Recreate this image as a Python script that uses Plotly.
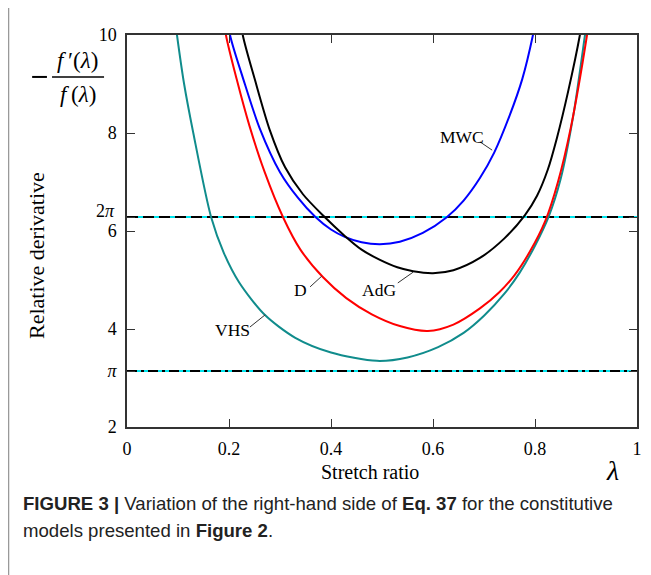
import plotly.graph_objects as go
import math

# ---- data ----
vhs_x = [0.092, 0.098, 0.112, 0.130, 0.165, 0.190, 0.220, 0.270, 0.330, 0.400, 0.490, 0.550, 0.610, 0.660, 0.700, 0.740, 0.770, 0.800, 0.827, 0.850, 0.875, 0.898, 0.904]
vhs_y = [10.5, 10.0, 9.00, 8.00, 6.28, 5.55, 4.95, 4.29, 3.82, 3.52, 3.35, 3.42, 3.63, 3.92, 4.27, 4.72, 5.15, 5.70, 6.30, 7.05, 8.35, 10.0, 10.45]

d_x = [0.188, 0.194, 0.215, 0.240, 0.270, 0.306, 0.340, 0.384, 0.430, 0.480, 0.535, 0.590, 0.640, 0.692, 0.730, 0.760, 0.790, 0.820, 0.845, 0.870, 0.902, 0.908]
d_y = [10.5, 10.0, 9.10, 8.15, 7.20, 6.28, 5.62, 5.06, 4.63, 4.30, 4.06, 3.96, 4.09, 4.42, 4.75, 5.10, 5.58, 6.20, 7.00, 8.10, 10.0, 10.45]

mwc_x = [0.196, 0.202, 0.228, 0.260, 0.300, 0.335, 0.369, 0.400, 0.427, 0.460, 0.496, 0.535, 0.580, 0.627, 0.660, 0.692, 0.720, 0.750, 0.775, 0.796, 0.803]
mwc_y = [10.5, 10.0, 9.10, 8.10, 7.20, 6.68, 6.29, 6.03, 5.88, 5.77, 5.73, 5.78, 5.96, 6.28, 6.62, 7.08, 7.60, 8.35, 9.10, 10.0, 10.4]

adg_x = [0.221, 0.227, 0.251, 0.280, 0.310, 0.345, 0.386, 0.427, 0.460, 0.496, 0.530, 0.561, 0.600, 0.640, 0.692, 0.740, 0.780, 0.804, 0.825, 0.843, 0.865, 0.888, 0.894]
adg_y = [10.5, 10.0, 9.08, 8.06, 7.30, 6.75, 6.30, 5.90, 5.62, 5.41, 5.26, 5.18, 5.14, 5.20, 5.45, 5.85, 6.32, 6.72, 7.25, 7.90, 8.85, 10.0, 10.4]

ref_levels = [math.pi, 2 * math.pi]
x_ticks = [0, 0.2, 0.4, 0.6, 0.8, 1]
x_ticktext = ["0", "0.2", "0.4", "0.6", "0.8", "1"]
y_ticks = [2, math.pi, 4, 6, 2 * math.pi, 8, 10]
y_ticktext = ["2", "<i>π</i>", "4", "6", "", "8", "10"]
two_pi_label = "2<i>π</i>"

labels = ["MWC", "AdG", "D", "VHS"]
label_pos = [(0.657, 7.92), (0.494, 4.80), (0.341, 4.80), (0.206, 3.98)]
leader = [((0.692, 7.82), (0.716, 7.65)), ((0.531, 4.94), (0.561, 5.16)),
          ((0.359, 4.86), (0.382, 5.08)), ((0.241, 4.04), (0.271, 4.29))]

SERIF = "Liberation Serif"
TEAL = "#108c8c"

fig = go.Figure()

# reference lines (cyan under black dashes)
x_full = [0, 1]
fig.add_trace(go.Scatter(x=x_full, y=[ref_levels[1]] * 2, mode="lines",
                         line=dict(color="#00e5ee", width=2), showlegend=False, hoverinfo="skip"))
fig.add_trace(go.Scatter(x=x_full, y=[ref_levels[1]] * 2, mode="lines",
                         line=dict(color="black", width=2, dash="11px,5px"), showlegend=False, hoverinfo="skip"))
fig.add_trace(go.Scatter(x=x_full, y=[ref_levels[0]] * 2, mode="lines",
                         line=dict(color="#00e5ee", width=2), showlegend=False, hoverinfo="skip"))
fig.add_trace(go.Scatter(x=x_full, y=[ref_levels[0]] * 2, mode="lines",
                         line=dict(color="black", width=2, dash="10px,4px,3px,4px"), showlegend=False, hoverinfo="skip"))

for xs, ys, col in [(vhs_x, vhs_y, TEAL), (d_x, d_y, "#ff0000"),
                    (mwc_x, mwc_y, "#0000ff"), (adg_x, adg_y, "#000000")]:
    fig.add_trace(go.Scatter(x=xs, y=ys, mode="lines",
                             line=dict(color=col, width=2, shape="spline", smoothing=0.8),
                             showlegend=False, hoverinfo="skip"))

shapes = []
for (p0, p1) in leader:
    shapes.append(dict(type="line", xref="x", yref="y", x0=p0[0], y0=p0[1], x1=p1[0], y1=p1[1],
                       line=dict(color="#333333", width=1)))
# minus sign and fraction bar of the y label
shapes.append(dict(type="line", xref="paper", yref="paper", x0=-0.186, x1=-0.157, y0=0.893, y1=0.893,
                   line=dict(color="black", width=2)))
shapes.append(dict(type="line", xref="paper", yref="paper", x0=-0.147, x1=-0.045, y0=0.893, y1=0.893,
                   line=dict(color="black", width=1.5)))
# page border on the left
shapes.append(dict(type="line", xref="paper", yref="paper", x0=-0.2323, x1=-0.2323, y0=-0.40, y1=1.1,
                   line=dict(color="#999999", width=1.5)))

annotations = []
for txt, (lx, ly) in zip(labels, label_pos):
    annotations.append(dict(x=lx, y=ly, xref="x", yref="y", text=txt, showarrow=False,
                            font=dict(family=SERIF, size=17.5, color="black"),
                            xanchor="center", yanchor="middle"))

def pa(x, y, text, size, **kw):
    d = dict(x=x, y=y, xref="paper", yref="paper", text=text, showarrow=False,
             font=dict(family=SERIF, size=size, color="black"), xanchor="center", yanchor="middle")
    d.update(kw)
    annotations.append(d)

pa(-0.0961, 0.936, "<i>f</i>\u2009′(<i>λ</i>)", 23)
pa(-0.0961, 0.847, "<i>f</i>\u2009(<i>λ</i>)", 23)
pa(-0.1765, 0.4388, "Relative derivative", 22, textangle=-90)
pa(0.4765, -0.116, "Stretch ratio", 20)
pa(0.951, -0.110, "<i>λ</i>", 28)
pa(-0.0196, 0.5515, two_pi_label, 18, xanchor="right")
annotations.append(dict(x=-0.208, y=-0.194, xref="paper", yref="paper", showarrow=False,
                        text="<b>FIGURE 3 |</b> Variation of the right-hand side of <b>Eq. 37</b> for the constitutive",
                        font=dict(family="Liberation Sans", size=18.6, color="#222222"),
                        xanchor="left", yanchor="middle"))
annotations.append(dict(x=-0.208, y=-0.263, xref="paper", yref="paper", showarrow=False,
                        text="models presented in <b>Figure 2</b>.",
                        font=dict(family="Liberation Sans", size=18.6, color="#222222"),
                        xanchor="left", yanchor="middle"))

axis_common = dict(showline=True, linecolor="#333333", linewidth=1.5, mirror="ticks",
                   ticks="inside", ticklen=8, tickcolor="#333333", tickwidth=1,
                   showgrid=False, zeroline=False, ticklabelstandoff=5,
                   tickfont=dict(family=SERIF, size=18, color="black"))

# the page body adds an 8px offset, so margins are reduced by 8px on the left/top
fig.update_layout(
    width=651, height=575,
    margin=dict(l=119, r=22, t=27, b=156),
    plot_bgcolor="white", paper_bgcolor="white",
    xaxis=dict(range=[0, 1], tickvals=x_ticks, ticktext=x_ticktext, **axis_common),
    yaxis=dict(range=[2, 10], tickvals=y_ticks, ticktext=y_ticktext, **axis_common),
    shapes=shapes, annotations=annotations,
)

fig.write_html("out.html")
